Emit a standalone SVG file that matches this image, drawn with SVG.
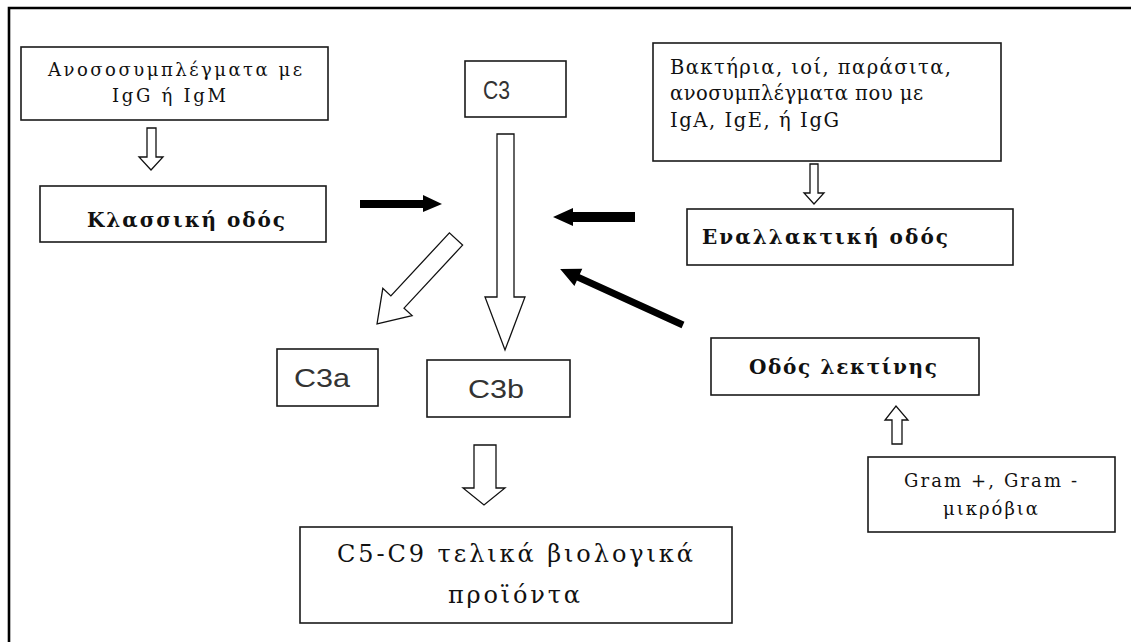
<svg xmlns="http://www.w3.org/2000/svg" width="1131" height="642" viewBox="0 0 1131 642">
  <style>
    .box { fill: #ffffff; stroke: #1a1a1a; stroke-width: 1.6; }
    .frame { fill: none; stroke: #000000; stroke-width: 2.6; }
    .hollow { fill: #ffffff; stroke: #111111; stroke-width: 1.3; stroke-linejoin: miter; }
    .solid { fill: #000000; stroke: none; }
    .serif { font-family: "DejaVu Serif", "Liberation Serif", serif; fill: #111111; }
    .bold { font-weight: bold; }
    .sans { font-family: "Liberation Sans", Arial, sans-serif; fill: #333333; font-weight: normal; }
  </style>

  <!-- outer frame: top and left rules only -->
  <path class="frame" d="M9,642 V8 H1131"/>

  <g id="immune-complexes-igg-igm">
    <rect class="box" x="21" y="47" width="307" height="73"/>
    <text class="serif" x="48" y="76" font-size="18" textLength="254" lengthAdjust="spacing">Ανοσοσυμπλέγματα με</text>
    <text class="serif" x="112" y="102" font-size="18" textLength="114" lengthAdjust="spacing">IgG ή IgM</text>
  </g>

  <g id="classical-pathway">
    <rect class="box" x="40" y="186" width="286" height="56"/>
    <text class="serif bold" x="87" y="227" font-size="20" textLength="198" lengthAdjust="spacing">Κλασσική οδός</text>
  </g>

  <g id="c3">
    <rect class="box" x="465" y="61" width="101" height="56"/>
    <text class="sans" x="483" y="99" font-size="25" textLength="27" lengthAdjust="spacingAndGlyphs">C3</text>
  </g>

  <g id="microbes-iga-ige-igg">
    <rect class="box" x="653" y="43" width="348" height="118"/>
    <text class="serif" x="670" y="74" font-size="19.5" textLength="281" lengthAdjust="spacing">Βακτήρια,  ιοί, παράσιτα,</text>
    <text class="serif" x="670" y="100" font-size="19.5" textLength="253" lengthAdjust="spacing">ανοσυμπλέγματα που με</text>
    <text class="serif" x="670" y="127" font-size="19.5" textLength="169" lengthAdjust="spacing">IgA, IgE, ή IgG</text>
  </g>

  <g id="alternative-pathway">
    <rect class="box" x="687" y="209" width="326" height="56"/>
    <text class="serif bold" x="702" y="244" font-size="20" textLength="246" lengthAdjust="spacing">Εναλλακτική οδός</text>
  </g>

  <g id="c3a">
    <rect class="box" x="277" y="349" width="101" height="57"/>
    <text class="sans" x="294" y="387" font-size="25" textLength="56" lengthAdjust="spacingAndGlyphs">C3a</text>
  </g>

  <g id="c3b">
    <rect class="box" x="427" y="360" width="143" height="57"/>
    <text class="sans" x="468" y="398" font-size="25" textLength="56" lengthAdjust="spacingAndGlyphs">C3b</text>
  </g>

  <g id="lectin-pathway">
    <rect class="box" x="711" y="338" width="268" height="57"/>
    <text class="serif bold" x="749" y="374" font-size="20" textLength="188" lengthAdjust="spacing">Οδός λεκτίνης</text>
  </g>

  <g id="gram-microbes">
    <rect class="box" x="868" y="457" width="247" height="75"/>
    <text class="serif" x="904" y="487" font-size="18" textLength="173" lengthAdjust="spacing">Gram +, Gram -</text>
    <text class="serif" x="943" y="515" font-size="18" textLength="95" lengthAdjust="spacing">μικρόβια</text>
  </g>

  <g id="c5-c9-products">
    <rect class="box" x="300" y="527" width="432" height="96"/>
    <text class="serif" x="337" y="562" font-size="24" textLength="356" lengthAdjust="spacing">C5-C9 τελικά βιολογικά</text>
    <text class="serif" x="448" y="603" font-size="24" textLength="132" lengthAdjust="spacing">προϊόντα</text>
  </g>

  <g id="connectors">
    <!-- hollow block arrows -->
    <polygon class="hollow" points="147,128 156,128 156,157 163,157 151,170 139,157 147,157"/>
    <polygon class="hollow" points="810,164 818,164 818,193 824,193 814,204 804,193 810,193"/>
    <polygon class="hollow" points="892,444 902,444 902,420 908,420 896,406 885,420 892,420"/>
    <polygon class="hollow" points="474,445 496,445 496,488 505,488 484,505 463,488 474,488"/>
    <polygon class="hollow" points="497,134 514,134 514,297 525,297 505,350 485,297 497,297"/>
    <!-- C3 -> C3a diagonal hollow arrow -->
    <polygon class="hollow" transform="translate(456,239) rotate(132.9)" points="0,-9 86,-9 86,-20 116,0 86,20 86,9 0,9"/>
    <!-- solid arrows converging on C3 -->
    <polygon class="solid" points="360,200 423,200 423,195 442,204 423,212 423,208 360,208"/>
    <polygon class="solid" points="635,212 573,212 573,208 553,217 573,226 573,222 635,222"/>
    <polygon class="solid" transform="translate(683,325) rotate(204.5)" points="0,-3.5 115,-3.5 115,-9.5 135,0 115,9.5 115,3.5 0,3.5"/>
  </g>
</svg>
